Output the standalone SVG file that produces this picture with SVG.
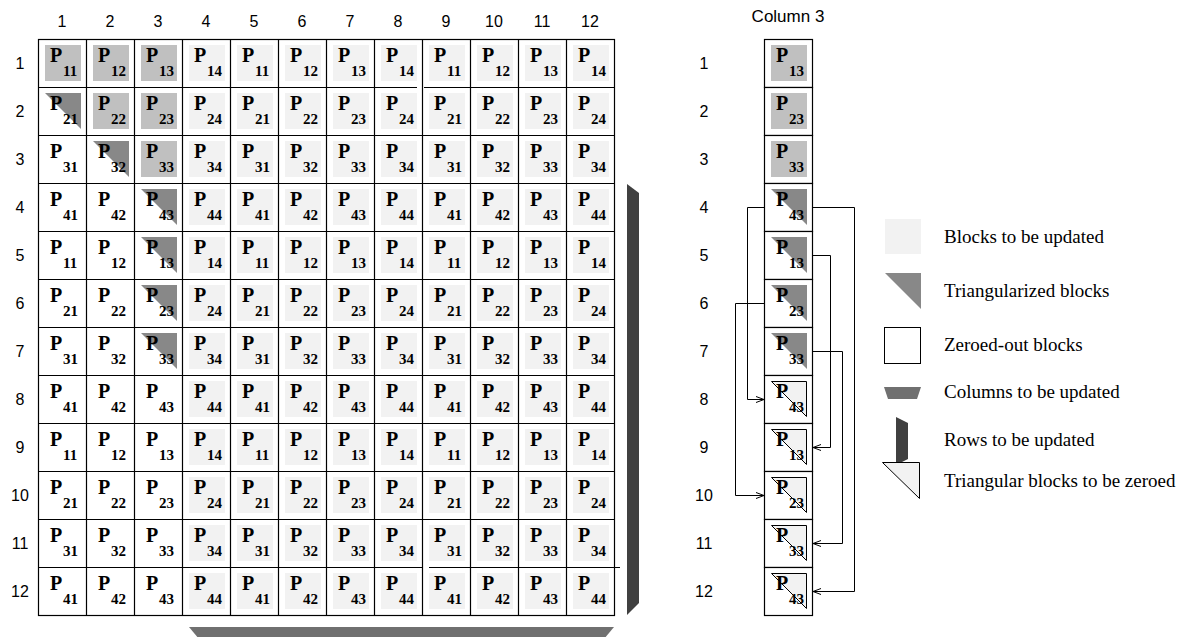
<svg xmlns="http://www.w3.org/2000/svg" width="1185" height="637" viewBox="0 0 1185 637">
<style>
.p{font-family:"Liberation Serif","Times New Roman",serif;font-weight:bold;font-size:20px;fill:#000}
.s{font-size:15px}
.lbl{font-family:"Liberation Sans",Arial,sans-serif;font-size:16px;text-anchor:middle;fill:#000}
.ttl{font-family:"Liberation Sans",Arial,sans-serif;font-size:17px;text-anchor:middle;fill:#000}
.leg{font-family:"Liberation Serif","Times New Roman",serif;font-size:19px;fill:#000}
.u{fill:#f2f2f2}
.g{fill:#c0c0c0}
.t{fill:#888888}
.z{fill:#f2f2f2;stroke:#000;stroke-width:1}
.ln{fill:none;stroke:#000;stroke-width:1.2}
.box{fill:#fff;stroke:#000;stroke-width:1.2}
.con{fill:none;stroke:#000;stroke-width:1}
</style>
<defs>
<marker id="arr" markerUnits="userSpaceOnUse" markerWidth="9" markerHeight="8" refX="8" refY="3.5" orient="auto">
<path d="M0,0.5 L8,3.5 L0,6.5" fill="none" stroke="#000" stroke-width="1"/>
</marker>
</defs>
<rect width="1185" height="637" fill="#fff"/>

<g id="col-labels">
<text class="lbl" x="62" y="27">1</text><text class="lbl" x="110" y="27">2</text><text class="lbl" x="158" y="27">3</text><text class="lbl" x="206" y="27">4</text><text class="lbl" x="254" y="27">5</text><text class="lbl" x="302" y="27">6</text><text class="lbl" x="350" y="27">7</text><text class="lbl" x="398" y="27">8</text><text class="lbl" x="446" y="27">9</text><text class="lbl" x="494" y="27">10</text><text class="lbl" x="542" y="27">11</text><text class="lbl" x="590" y="27">12</text>
</g>
<g id="row-labels">
<text class="lbl" x="20" y="69">1</text><text class="lbl" x="20" y="117">2</text><text class="lbl" x="20" y="165">3</text><text class="lbl" x="20" y="213">4</text><text class="lbl" x="20" y="261">5</text><text class="lbl" x="20" y="309">6</text><text class="lbl" x="20" y="357">7</text><text class="lbl" x="20" y="405">8</text><text class="lbl" x="20" y="453">9</text><text class="lbl" x="20" y="501">10</text><text class="lbl" x="20" y="549">11</text><text class="lbl" x="20" y="597">12</text>
</g>

<g id="grid-cells">
<!-- row 1 -->
<g id="n1-1"><rect class="g" x="45" y="45" width="36" height="36"/><text class="p" x="50" y="62">P<tspan class="s" x="63" y="76">11</tspan></text></g>
<g id="n1-2"><rect class="g" x="93" y="45" width="36" height="36"/><text class="p" x="98" y="62">P<tspan class="s" x="111" y="76">12</tspan></text></g>
<g id="n1-3"><rect class="g" x="141" y="45" width="36" height="36"/><text class="p" x="146" y="62">P<tspan class="s" x="159" y="76">13</tspan></text></g>
<g id="n1-4"><rect class="u" x="189" y="45" width="36" height="36"/><text class="p" x="194" y="62">P<tspan class="s" x="207" y="76">14</tspan></text></g>
<g id="n1-5"><rect class="u" x="237" y="45" width="36" height="36"/><text class="p" x="242" y="62">P<tspan class="s" x="255" y="76">11</tspan></text></g>
<g id="n1-6"><rect class="u" x="285" y="45" width="36" height="36"/><text class="p" x="290" y="62">P<tspan class="s" x="303" y="76">12</tspan></text></g>
<g id="n1-7"><rect class="u" x="333" y="45" width="36" height="36"/><text class="p" x="338" y="62">P<tspan class="s" x="351" y="76">13</tspan></text></g>
<g id="n1-8"><rect class="u" x="381" y="45" width="36" height="36"/><text class="p" x="386" y="62">P<tspan class="s" x="399" y="76">14</tspan></text></g>
<g id="n1-9"><rect class="u" x="429" y="45" width="36" height="36"/><text class="p" x="434" y="62">P<tspan class="s" x="447" y="76">11</tspan></text></g>
<g id="n1-10"><rect class="u" x="477" y="45" width="36" height="36"/><text class="p" x="482" y="62">P<tspan class="s" x="495" y="76">12</tspan></text></g>
<g id="n1-11"><rect class="u" x="525" y="45" width="36" height="36"/><text class="p" x="530" y="62">P<tspan class="s" x="543" y="76">13</tspan></text></g>
<g id="n1-12"><rect class="u" x="573" y="45" width="36" height="36"/><text class="p" x="578" y="62">P<tspan class="s" x="591" y="76">14</tspan></text></g>
<!-- row 2 -->
<g id="n2-1"><path class="t" d="M45,93h36v36z"/><text class="p" x="50" y="110">P<tspan class="s" x="63" y="124">21</tspan></text></g>
<g id="n2-2"><rect class="g" x="93" y="93" width="36" height="36"/><text class="p" x="98" y="110">P<tspan class="s" x="111" y="124">22</tspan></text></g>
<g id="n2-3"><rect class="g" x="141" y="93" width="36" height="36"/><text class="p" x="146" y="110">P<tspan class="s" x="159" y="124">23</tspan></text></g>
<g id="n2-4"><rect class="u" x="189" y="93" width="36" height="36"/><text class="p" x="194" y="110">P<tspan class="s" x="207" y="124">24</tspan></text></g>
<g id="n2-5"><rect class="u" x="237" y="93" width="36" height="36"/><text class="p" x="242" y="110">P<tspan class="s" x="255" y="124">21</tspan></text></g>
<g id="n2-6"><rect class="u" x="285" y="93" width="36" height="36"/><text class="p" x="290" y="110">P<tspan class="s" x="303" y="124">22</tspan></text></g>
<g id="n2-7"><rect class="u" x="333" y="93" width="36" height="36"/><text class="p" x="338" y="110">P<tspan class="s" x="351" y="124">23</tspan></text></g>
<g id="n2-8"><rect class="u" x="381" y="93" width="36" height="36"/><text class="p" x="386" y="110">P<tspan class="s" x="399" y="124">24</tspan></text></g>
<g id="n2-9"><rect class="u" x="429" y="93" width="36" height="36"/><text class="p" x="434" y="110">P<tspan class="s" x="447" y="124">21</tspan></text></g>
<g id="n2-10"><rect class="u" x="477" y="93" width="36" height="36"/><text class="p" x="482" y="110">P<tspan class="s" x="495" y="124">22</tspan></text></g>
<g id="n2-11"><rect class="u" x="525" y="93" width="36" height="36"/><text class="p" x="530" y="110">P<tspan class="s" x="543" y="124">23</tspan></text></g>
<g id="n2-12"><rect class="u" x="573" y="93" width="36" height="36"/><text class="p" x="578" y="110">P<tspan class="s" x="591" y="124">24</tspan></text></g>
<!-- row 3 -->
<g id="n3-1"><text class="p" x="50" y="158">P<tspan class="s" x="63" y="172">31</tspan></text></g>
<g id="n3-2"><path class="t" d="M93,141h36v36z"/><text class="p" x="98" y="158">P<tspan class="s" x="111" y="172">32</tspan></text></g>
<g id="n3-3"><rect class="g" x="141" y="141" width="36" height="36"/><text class="p" x="146" y="158">P<tspan class="s" x="159" y="172">33</tspan></text></g>
<g id="n3-4"><rect class="u" x="189" y="141" width="36" height="36"/><text class="p" x="194" y="158">P<tspan class="s" x="207" y="172">34</tspan></text></g>
<g id="n3-5"><rect class="u" x="237" y="141" width="36" height="36"/><text class="p" x="242" y="158">P<tspan class="s" x="255" y="172">31</tspan></text></g>
<g id="n3-6"><rect class="u" x="285" y="141" width="36" height="36"/><text class="p" x="290" y="158">P<tspan class="s" x="303" y="172">32</tspan></text></g>
<g id="n3-7"><rect class="u" x="333" y="141" width="36" height="36"/><text class="p" x="338" y="158">P<tspan class="s" x="351" y="172">33</tspan></text></g>
<g id="n3-8"><rect class="u" x="381" y="141" width="36" height="36"/><text class="p" x="386" y="158">P<tspan class="s" x="399" y="172">34</tspan></text></g>
<g id="n3-9"><rect class="u" x="429" y="141" width="36" height="36"/><text class="p" x="434" y="158">P<tspan class="s" x="447" y="172">31</tspan></text></g>
<g id="n3-10"><rect class="u" x="477" y="141" width="36" height="36"/><text class="p" x="482" y="158">P<tspan class="s" x="495" y="172">32</tspan></text></g>
<g id="n3-11"><rect class="u" x="525" y="141" width="36" height="36"/><text class="p" x="530" y="158">P<tspan class="s" x="543" y="172">33</tspan></text></g>
<g id="n3-12"><rect class="u" x="573" y="141" width="36" height="36"/><text class="p" x="578" y="158">P<tspan class="s" x="591" y="172">34</tspan></text></g>
<!-- row 4 -->
<g id="n4-1"><text class="p" x="50" y="206">P<tspan class="s" x="63" y="220">41</tspan></text></g>
<g id="n4-2"><text class="p" x="98" y="206">P<tspan class="s" x="111" y="220">42</tspan></text></g>
<g id="n4-3"><path class="t" d="M141,189h36v36z"/><text class="p" x="146" y="206">P<tspan class="s" x="159" y="220">43</tspan></text></g>
<g id="n4-4"><rect class="u" x="189" y="189" width="36" height="36"/><text class="p" x="194" y="206">P<tspan class="s" x="207" y="220">44</tspan></text></g>
<g id="n4-5"><rect class="u" x="237" y="189" width="36" height="36"/><text class="p" x="242" y="206">P<tspan class="s" x="255" y="220">41</tspan></text></g>
<g id="n4-6"><rect class="u" x="285" y="189" width="36" height="36"/><text class="p" x="290" y="206">P<tspan class="s" x="303" y="220">42</tspan></text></g>
<g id="n4-7"><rect class="u" x="333" y="189" width="36" height="36"/><text class="p" x="338" y="206">P<tspan class="s" x="351" y="220">43</tspan></text></g>
<g id="n4-8"><rect class="u" x="381" y="189" width="36" height="36"/><text class="p" x="386" y="206">P<tspan class="s" x="399" y="220">44</tspan></text></g>
<g id="n4-9"><rect class="u" x="429" y="189" width="36" height="36"/><text class="p" x="434" y="206">P<tspan class="s" x="447" y="220">41</tspan></text></g>
<g id="n4-10"><rect class="u" x="477" y="189" width="36" height="36"/><text class="p" x="482" y="206">P<tspan class="s" x="495" y="220">42</tspan></text></g>
<g id="n4-11"><rect class="u" x="525" y="189" width="36" height="36"/><text class="p" x="530" y="206">P<tspan class="s" x="543" y="220">43</tspan></text></g>
<g id="n4-12"><rect class="u" x="573" y="189" width="36" height="36"/><text class="p" x="578" y="206">P<tspan class="s" x="591" y="220">44</tspan></text></g>
<!-- row 5 -->
<g id="n5-1"><text class="p" x="50" y="254">P<tspan class="s" x="63" y="268">11</tspan></text></g>
<g id="n5-2"><text class="p" x="98" y="254">P<tspan class="s" x="111" y="268">12</tspan></text></g>
<g id="n5-3"><path class="t" d="M141,237h36v36z"/><text class="p" x="146" y="254">P<tspan class="s" x="159" y="268">13</tspan></text></g>
<g id="n5-4"><rect class="u" x="189" y="237" width="36" height="36"/><text class="p" x="194" y="254">P<tspan class="s" x="207" y="268">14</tspan></text></g>
<g id="n5-5"><rect class="u" x="237" y="237" width="36" height="36"/><text class="p" x="242" y="254">P<tspan class="s" x="255" y="268">11</tspan></text></g>
<g id="n5-6"><rect class="u" x="285" y="237" width="36" height="36"/><text class="p" x="290" y="254">P<tspan class="s" x="303" y="268">12</tspan></text></g>
<g id="n5-7"><rect class="u" x="333" y="237" width="36" height="36"/><text class="p" x="338" y="254">P<tspan class="s" x="351" y="268">13</tspan></text></g>
<g id="n5-8"><rect class="u" x="381" y="237" width="36" height="36"/><text class="p" x="386" y="254">P<tspan class="s" x="399" y="268">14</tspan></text></g>
<g id="n5-9"><rect class="u" x="429" y="237" width="36" height="36"/><text class="p" x="434" y="254">P<tspan class="s" x="447" y="268">11</tspan></text></g>
<g id="n5-10"><rect class="u" x="477" y="237" width="36" height="36"/><text class="p" x="482" y="254">P<tspan class="s" x="495" y="268">12</tspan></text></g>
<g id="n5-11"><rect class="u" x="525" y="237" width="36" height="36"/><text class="p" x="530" y="254">P<tspan class="s" x="543" y="268">13</tspan></text></g>
<g id="n5-12"><rect class="u" x="573" y="237" width="36" height="36"/><text class="p" x="578" y="254">P<tspan class="s" x="591" y="268">14</tspan></text></g>
<!-- row 6 -->
<g id="n6-1"><text class="p" x="50" y="302">P<tspan class="s" x="63" y="316">21</tspan></text></g>
<g id="n6-2"><text class="p" x="98" y="302">P<tspan class="s" x="111" y="316">22</tspan></text></g>
<g id="n6-3"><path class="t" d="M141,285h36v36z"/><text class="p" x="146" y="302">P<tspan class="s" x="159" y="316">23</tspan></text></g>
<g id="n6-4"><rect class="u" x="189" y="285" width="36" height="36"/><text class="p" x="194" y="302">P<tspan class="s" x="207" y="316">24</tspan></text></g>
<g id="n6-5"><rect class="u" x="237" y="285" width="36" height="36"/><text class="p" x="242" y="302">P<tspan class="s" x="255" y="316">21</tspan></text></g>
<g id="n6-6"><rect class="u" x="285" y="285" width="36" height="36"/><text class="p" x="290" y="302">P<tspan class="s" x="303" y="316">22</tspan></text></g>
<g id="n6-7"><rect class="u" x="333" y="285" width="36" height="36"/><text class="p" x="338" y="302">P<tspan class="s" x="351" y="316">23</tspan></text></g>
<g id="n6-8"><rect class="u" x="381" y="285" width="36" height="36"/><text class="p" x="386" y="302">P<tspan class="s" x="399" y="316">24</tspan></text></g>
<g id="n6-9"><rect class="u" x="429" y="285" width="36" height="36"/><text class="p" x="434" y="302">P<tspan class="s" x="447" y="316">21</tspan></text></g>
<g id="n6-10"><rect class="u" x="477" y="285" width="36" height="36"/><text class="p" x="482" y="302">P<tspan class="s" x="495" y="316">22</tspan></text></g>
<g id="n6-11"><rect class="u" x="525" y="285" width="36" height="36"/><text class="p" x="530" y="302">P<tspan class="s" x="543" y="316">23</tspan></text></g>
<g id="n6-12"><rect class="u" x="573" y="285" width="36" height="36"/><text class="p" x="578" y="302">P<tspan class="s" x="591" y="316">24</tspan></text></g>
<!-- row 7 -->
<g id="n7-1"><text class="p" x="50" y="350">P<tspan class="s" x="63" y="364">31</tspan></text></g>
<g id="n7-2"><text class="p" x="98" y="350">P<tspan class="s" x="111" y="364">32</tspan></text></g>
<g id="n7-3"><path class="t" d="M141,333h36v36z"/><text class="p" x="146" y="350">P<tspan class="s" x="159" y="364">33</tspan></text></g>
<g id="n7-4"><rect class="u" x="189" y="333" width="36" height="36"/><text class="p" x="194" y="350">P<tspan class="s" x="207" y="364">34</tspan></text></g>
<g id="n7-5"><rect class="u" x="237" y="333" width="36" height="36"/><text class="p" x="242" y="350">P<tspan class="s" x="255" y="364">31</tspan></text></g>
<g id="n7-6"><rect class="u" x="285" y="333" width="36" height="36"/><text class="p" x="290" y="350">P<tspan class="s" x="303" y="364">32</tspan></text></g>
<g id="n7-7"><rect class="u" x="333" y="333" width="36" height="36"/><text class="p" x="338" y="350">P<tspan class="s" x="351" y="364">33</tspan></text></g>
<g id="n7-8"><rect class="u" x="381" y="333" width="36" height="36"/><text class="p" x="386" y="350">P<tspan class="s" x="399" y="364">34</tspan></text></g>
<g id="n7-9"><rect class="u" x="429" y="333" width="36" height="36"/><text class="p" x="434" y="350">P<tspan class="s" x="447" y="364">31</tspan></text></g>
<g id="n7-10"><rect class="u" x="477" y="333" width="36" height="36"/><text class="p" x="482" y="350">P<tspan class="s" x="495" y="364">32</tspan></text></g>
<g id="n7-11"><rect class="u" x="525" y="333" width="36" height="36"/><text class="p" x="530" y="350">P<tspan class="s" x="543" y="364">33</tspan></text></g>
<g id="n7-12"><rect class="u" x="573" y="333" width="36" height="36"/><text class="p" x="578" y="350">P<tspan class="s" x="591" y="364">34</tspan></text></g>
<!-- row 8 -->
<g id="n8-1"><text class="p" x="50" y="398">P<tspan class="s" x="63" y="412">41</tspan></text></g>
<g id="n8-2"><text class="p" x="98" y="398">P<tspan class="s" x="111" y="412">42</tspan></text></g>
<g id="n8-3"><text class="p" x="146" y="398">P<tspan class="s" x="159" y="412">43</tspan></text></g>
<g id="n8-4"><rect class="u" x="189" y="381" width="36" height="36"/><text class="p" x="194" y="398">P<tspan class="s" x="207" y="412">44</tspan></text></g>
<g id="n8-5"><rect class="u" x="237" y="381" width="36" height="36"/><text class="p" x="242" y="398">P<tspan class="s" x="255" y="412">41</tspan></text></g>
<g id="n8-6"><rect class="u" x="285" y="381" width="36" height="36"/><text class="p" x="290" y="398">P<tspan class="s" x="303" y="412">42</tspan></text></g>
<g id="n8-7"><rect class="u" x="333" y="381" width="36" height="36"/><text class="p" x="338" y="398">P<tspan class="s" x="351" y="412">43</tspan></text></g>
<g id="n8-8"><rect class="u" x="381" y="381" width="36" height="36"/><text class="p" x="386" y="398">P<tspan class="s" x="399" y="412">44</tspan></text></g>
<g id="n8-9"><rect class="u" x="429" y="381" width="36" height="36"/><text class="p" x="434" y="398">P<tspan class="s" x="447" y="412">41</tspan></text></g>
<g id="n8-10"><rect class="u" x="477" y="381" width="36" height="36"/><text class="p" x="482" y="398">P<tspan class="s" x="495" y="412">42</tspan></text></g>
<g id="n8-11"><rect class="u" x="525" y="381" width="36" height="36"/><text class="p" x="530" y="398">P<tspan class="s" x="543" y="412">43</tspan></text></g>
<g id="n8-12"><rect class="u" x="573" y="381" width="36" height="36"/><text class="p" x="578" y="398">P<tspan class="s" x="591" y="412">44</tspan></text></g>
<!-- row 9 -->
<g id="n9-1"><text class="p" x="50" y="446">P<tspan class="s" x="63" y="460">11</tspan></text></g>
<g id="n9-2"><text class="p" x="98" y="446">P<tspan class="s" x="111" y="460">12</tspan></text></g>
<g id="n9-3"><text class="p" x="146" y="446">P<tspan class="s" x="159" y="460">13</tspan></text></g>
<g id="n9-4"><rect class="u" x="189" y="429" width="36" height="36"/><text class="p" x="194" y="446">P<tspan class="s" x="207" y="460">14</tspan></text></g>
<g id="n9-5"><rect class="u" x="237" y="429" width="36" height="36"/><text class="p" x="242" y="446">P<tspan class="s" x="255" y="460">11</tspan></text></g>
<g id="n9-6"><rect class="u" x="285" y="429" width="36" height="36"/><text class="p" x="290" y="446">P<tspan class="s" x="303" y="460">12</tspan></text></g>
<g id="n9-7"><rect class="u" x="333" y="429" width="36" height="36"/><text class="p" x="338" y="446">P<tspan class="s" x="351" y="460">13</tspan></text></g>
<g id="n9-8"><rect class="u" x="381" y="429" width="36" height="36"/><text class="p" x="386" y="446">P<tspan class="s" x="399" y="460">14</tspan></text></g>
<g id="n9-9"><rect class="u" x="429" y="429" width="36" height="36"/><text class="p" x="434" y="446">P<tspan class="s" x="447" y="460">11</tspan></text></g>
<g id="n9-10"><rect class="u" x="477" y="429" width="36" height="36"/><text class="p" x="482" y="446">P<tspan class="s" x="495" y="460">12</tspan></text></g>
<g id="n9-11"><rect class="u" x="525" y="429" width="36" height="36"/><text class="p" x="530" y="446">P<tspan class="s" x="543" y="460">13</tspan></text></g>
<g id="n9-12"><rect class="u" x="573" y="429" width="36" height="36"/><text class="p" x="578" y="446">P<tspan class="s" x="591" y="460">14</tspan></text></g>
<!-- row 10 -->
<g id="n10-1"><text class="p" x="50" y="494">P<tspan class="s" x="63" y="508">21</tspan></text></g>
<g id="n10-2"><text class="p" x="98" y="494">P<tspan class="s" x="111" y="508">22</tspan></text></g>
<g id="n10-3"><text class="p" x="146" y="494">P<tspan class="s" x="159" y="508">23</tspan></text></g>
<g id="n10-4"><rect class="u" x="189" y="477" width="36" height="36"/><text class="p" x="194" y="494">P<tspan class="s" x="207" y="508">24</tspan></text></g>
<g id="n10-5"><rect class="u" x="237" y="477" width="36" height="36"/><text class="p" x="242" y="494">P<tspan class="s" x="255" y="508">21</tspan></text></g>
<g id="n10-6"><rect class="u" x="285" y="477" width="36" height="36"/><text class="p" x="290" y="494">P<tspan class="s" x="303" y="508">22</tspan></text></g>
<g id="n10-7"><rect class="u" x="333" y="477" width="36" height="36"/><text class="p" x="338" y="494">P<tspan class="s" x="351" y="508">23</tspan></text></g>
<g id="n10-8"><rect class="u" x="381" y="477" width="36" height="36"/><text class="p" x="386" y="494">P<tspan class="s" x="399" y="508">24</tspan></text></g>
<g id="n10-9"><rect class="u" x="429" y="477" width="36" height="36"/><text class="p" x="434" y="494">P<tspan class="s" x="447" y="508">21</tspan></text></g>
<g id="n10-10"><rect class="u" x="477" y="477" width="36" height="36"/><text class="p" x="482" y="494">P<tspan class="s" x="495" y="508">22</tspan></text></g>
<g id="n10-11"><rect class="u" x="525" y="477" width="36" height="36"/><text class="p" x="530" y="494">P<tspan class="s" x="543" y="508">23</tspan></text></g>
<g id="n10-12"><rect class="u" x="573" y="477" width="36" height="36"/><text class="p" x="578" y="494">P<tspan class="s" x="591" y="508">24</tspan></text></g>
<!-- row 11 -->
<g id="n11-1"><text class="p" x="50" y="542">P<tspan class="s" x="63" y="556">31</tspan></text></g>
<g id="n11-2"><text class="p" x="98" y="542">P<tspan class="s" x="111" y="556">32</tspan></text></g>
<g id="n11-3"><text class="p" x="146" y="542">P<tspan class="s" x="159" y="556">33</tspan></text></g>
<g id="n11-4"><rect class="u" x="189" y="525" width="36" height="36"/><text class="p" x="194" y="542">P<tspan class="s" x="207" y="556">34</tspan></text></g>
<g id="n11-5"><rect class="u" x="237" y="525" width="36" height="36"/><text class="p" x="242" y="542">P<tspan class="s" x="255" y="556">31</tspan></text></g>
<g id="n11-6"><rect class="u" x="285" y="525" width="36" height="36"/><text class="p" x="290" y="542">P<tspan class="s" x="303" y="556">32</tspan></text></g>
<g id="n11-7"><rect class="u" x="333" y="525" width="36" height="36"/><text class="p" x="338" y="542">P<tspan class="s" x="351" y="556">33</tspan></text></g>
<g id="n11-8"><rect class="u" x="381" y="525" width="36" height="36"/><text class="p" x="386" y="542">P<tspan class="s" x="399" y="556">34</tspan></text></g>
<g id="n11-9"><rect class="u" x="429" y="525" width="36" height="36"/><text class="p" x="434" y="542">P<tspan class="s" x="447" y="556">31</tspan></text></g>
<g id="n11-10"><rect class="u" x="477" y="525" width="36" height="36"/><text class="p" x="482" y="542">P<tspan class="s" x="495" y="556">32</tspan></text></g>
<g id="n11-11"><rect class="u" x="525" y="525" width="36" height="36"/><text class="p" x="530" y="542">P<tspan class="s" x="543" y="556">33</tspan></text></g>
<g id="n11-12"><rect class="u" x="573" y="525" width="36" height="36"/><text class="p" x="578" y="542">P<tspan class="s" x="591" y="556">34</tspan></text></g>
<!-- row 12 -->
<g id="n12-1"><text class="p" x="50" y="590">P<tspan class="s" x="63" y="604">41</tspan></text></g>
<g id="n12-2"><text class="p" x="98" y="590">P<tspan class="s" x="111" y="604">42</tspan></text></g>
<g id="n12-3"><text class="p" x="146" y="590">P<tspan class="s" x="159" y="604">43</tspan></text></g>
<g id="n12-4"><rect class="u" x="189" y="573" width="36" height="36"/><text class="p" x="194" y="590">P<tspan class="s" x="207" y="604">44</tspan></text></g>
<g id="n12-5"><rect class="u" x="237" y="573" width="36" height="36"/><text class="p" x="242" y="590">P<tspan class="s" x="255" y="604">41</tspan></text></g>
<g id="n12-6"><rect class="u" x="285" y="573" width="36" height="36"/><text class="p" x="290" y="590">P<tspan class="s" x="303" y="604">42</tspan></text></g>
<g id="n12-7"><rect class="u" x="333" y="573" width="36" height="36"/><text class="p" x="338" y="590">P<tspan class="s" x="351" y="604">43</tspan></text></g>
<g id="n12-8"><rect class="u" x="381" y="573" width="36" height="36"/><text class="p" x="386" y="590">P<tspan class="s" x="399" y="604">44</tspan></text></g>
<g id="n12-9"><rect class="u" x="429" y="573" width="36" height="36"/><text class="p" x="434" y="590">P<tspan class="s" x="447" y="604">41</tspan></text></g>
<g id="n12-10"><rect class="u" x="477" y="573" width="36" height="36"/><text class="p" x="482" y="590">P<tspan class="s" x="495" y="604">42</tspan></text></g>
<g id="n12-11"><rect class="u" x="525" y="573" width="36" height="36"/><text class="p" x="530" y="590">P<tspan class="s" x="543" y="604">43</tspan></text></g>
<g id="n12-12"><rect class="u" x="573" y="573" width="36" height="36"/><text class="p" x="578" y="590">P<tspan class="s" x="591" y="604">44</tspan></text></g>
</g>

<g id="grid-lines">
<rect class="ln" x="38.5" y="39.5" width="576" height="576"/>
<path class="ln" d="M86.5,39.5V615.5M134.5,39.5V615.5M182.5,39.5V615.5M230.5,39.5V615.5M278.5,39.5V615.5M326.5,39.5V615.5M374.5,39.5V615.5M422.5,39.5V615.5M470.5,39.5V615.5M518.5,39.5V615.5M566.5,39.5V615.5"/>
<path class="ln" d="M38.5,87.5H417M424,87.5H614.5M38.5,135.5H614.5M38.5,183.5H614.5M38.5,231.5H614.5M38.5,279.5H614.5M38.5,327.5H614.5M38.5,375.5H614.5M38.5,423.5H614.5M38.5,471.5H614.5M38.5,519.5H614.5M38.5,567.5H422.5M429,567.5H620"/>
</g>

<g id="rows-bar"><polygon points="627,184 639,193 639,603 627,615" fill="#404040"/></g>
<g id="columns-bar"><polygon points="189,627 614,627 604,639 199,639" fill="#707070"/></g>

<g id="column3">
<text class="ttl" x="788" y="22">Column 3</text>
<g id="c3-labels">
<text class="lbl" x="704" y="69">1</text><text class="lbl" x="704" y="117">2</text><text class="lbl" x="704" y="165">3</text><text class="lbl" x="704" y="213">4</text><text class="lbl" x="704" y="261">5</text><text class="lbl" x="704" y="309">6</text><text class="lbl" x="704" y="357">7</text><text class="lbl" x="704" y="405">8</text><text class="lbl" x="704" y="453">9</text><text class="lbl" x="704" y="501">10</text><text class="lbl" x="704" y="549">11</text><text class="lbl" x="704" y="597">12</text>
</g>
<g id="c3-1"><rect class="box" x="764.5" y="39.5" width="48" height="48"/><rect class="g" x="771" y="45" width="36" height="36"/><text class="p" x="776" y="62">P<tspan class="s" x="789" y="76">13</tspan></text></g>
<g id="c3-2"><rect class="box" x="764.5" y="87.5" width="48" height="48"/><rect class="g" x="771" y="93" width="36" height="36"/><text class="p" x="776" y="110">P<tspan class="s" x="789" y="124">23</tspan></text></g>
<g id="c3-3"><rect class="box" x="764.5" y="135.5" width="48" height="48"/><rect class="g" x="771" y="141" width="36" height="36"/><text class="p" x="776" y="158">P<tspan class="s" x="789" y="172">33</tspan></text></g>
<g id="c3-4"><rect class="box" x="764.5" y="183.5" width="48" height="48"/><path class="t" d="M771,189h36v36z"/><text class="p" x="776" y="206">P<tspan class="s" x="789" y="220">43</tspan></text></g>
<g id="c3-5"><rect class="box" x="764.5" y="231.5" width="48" height="48"/><path class="t" d="M771,237h36v36z"/><text class="p" x="776" y="254">P<tspan class="s" x="789" y="268">13</tspan></text></g>
<g id="c3-6"><rect class="box" x="764.5" y="279.5" width="48" height="48"/><path class="t" d="M771,285h36v36z"/><text class="p" x="776" y="302">P<tspan class="s" x="789" y="316">23</tspan></text></g>
<g id="c3-7"><rect class="box" x="764.5" y="327.5" width="48" height="48"/><path class="t" d="M771,333h36v36z"/><text class="p" x="776" y="350">P<tspan class="s" x="789" y="364">33</tspan></text></g>
<g id="c3-8"><rect class="box" x="764.5" y="375.5" width="48" height="48"/><path class="z" d="M771.5,381.5h35v35z"/><text class="p" x="776" y="398">P<tspan class="s" x="789" y="412">43</tspan></text></g>
<g id="c3-9"><rect class="box" x="764.5" y="423.5" width="48" height="48"/><path class="z" d="M771.5,429.5h35v35z"/><text class="p" x="776" y="446">P<tspan class="s" x="789" y="460">13</tspan></text></g>
<g id="c3-10"><rect class="box" x="764.5" y="471.5" width="48" height="48"/><path class="z" d="M771.5,477.5h35v35z"/><text class="p" x="776" y="494">P<tspan class="s" x="789" y="508">23</tspan></text></g>
<g id="c3-11"><rect class="box" x="764.5" y="519.5" width="48" height="48"/><path class="z" d="M771.5,525.5h35v35z"/><text class="p" x="776" y="542">P<tspan class="s" x="789" y="556">33</tspan></text></g>
<g id="c3-12"><rect class="box" x="764.5" y="567.5" width="48" height="48"/><path class="z" d="M771.5,573.5h35v35z"/><text class="p" x="776" y="590">P<tspan class="s" x="789" y="604">43</tspan></text></g>
</g>

<g id="connectors">
<path class="con" d="M764,207.5H747.5V399.5H764" marker-end="url(#arr)"/>
<path class="con" d="M764,303.5H735.5V495.5H764" marker-end="url(#arr)"/>
<path class="con" d="M813,255.5H830.5V447.5H813" marker-end="url(#arr)"/>
<path class="con" d="M813,351.5H842.5V543.5H813" marker-end="url(#arr)"/>
<path class="con" d="M813,207.5H854.5V591.5H813" marker-end="url(#arr)"/>
</g>

<g id="legend">
<g id="leg-update"><rect class="u" x="885" y="219" width="36" height="35"/><text class="leg" x="944" y="243">Blocks to be updated</text></g>
<g id="leg-tri"><path class="t" d="M885,273h36v36z"/><text class="leg" x="944" y="297">Triangularized blocks</text></g>
<g id="leg-zero"><rect x="884.5" y="327.5" width="36" height="36" fill="#fff" stroke="#000" stroke-width="1"/><text class="leg" x="944" y="351">Zeroed-out blocks</text></g>
<g id="leg-cols"><polygon points="884,387 921,387 917,399 888,399" fill="#707070"/><text class="leg" x="944" y="398">Columns to be updated</text></g>
<g id="leg-rows"><polygon points="896,417 908,423 908,459 896,465" fill="#404040"/><text class="leg" x="944" y="446">Rows to be updated</text></g>
<g id="leg-tz"><path class="z" d="M882.5,462.5h37v36z"/><text class="leg" x="944" y="487">Triangular blocks to be zeroed</text></g>
</g>
</svg>
